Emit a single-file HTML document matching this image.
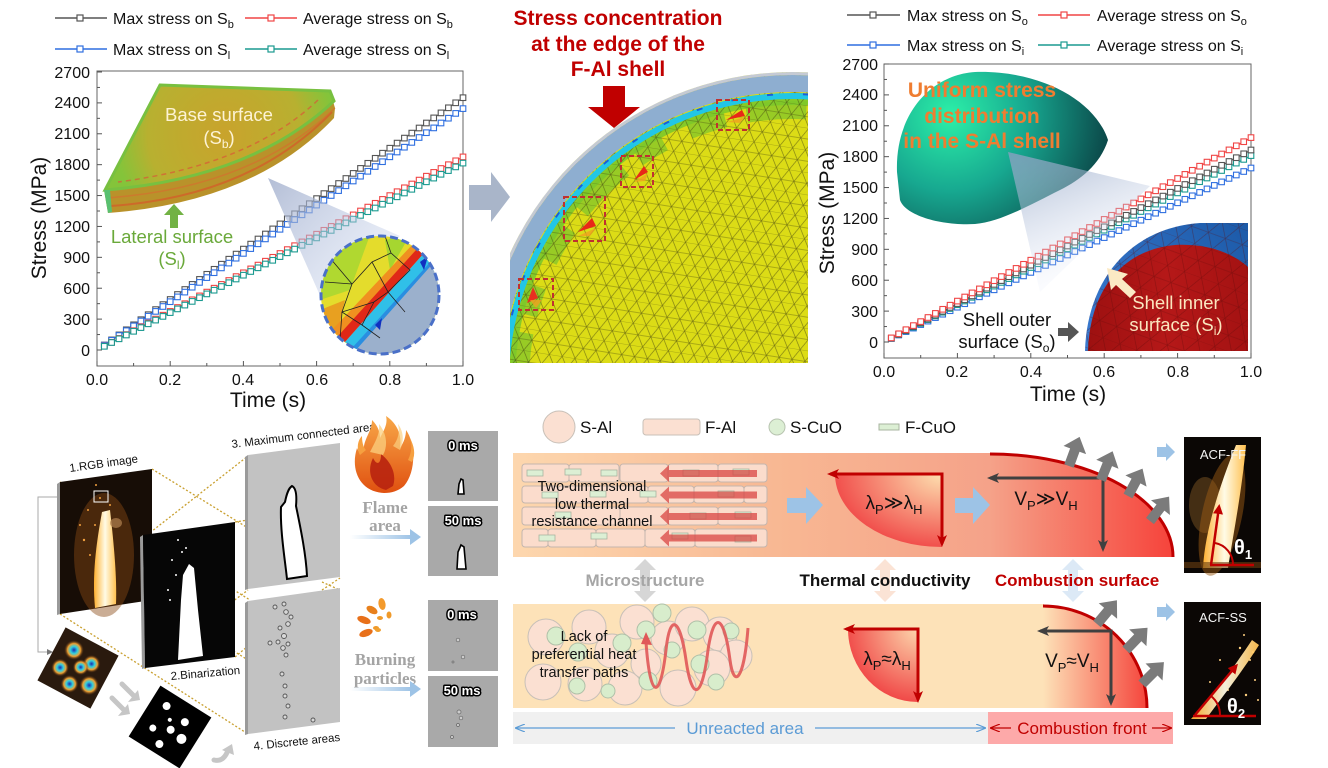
<!DOCTYPE html>
<html><head><meta charset="utf-8">
<style>
html,body{margin:0;padding:0;background:#fff;width:1328px;height:768px;overflow:hidden;}
svg{display:block;font-family:"Liberation Sans",Arial,sans-serif;overflow:hidden;}
.t16{font-size:16px;fill:#111;}
.ax{font-size:16px;fill:#111;}
</style></head><body>
<svg id="s" width="1328" height="768" viewBox="0 0 1328 768" xmlns="http://www.w3.org/2000/svg">
<defs>
  <pattern id="mesh" width="13" height="22" patternUnits="userSpaceOnUse" patternTransform="rotate(9)">
    <path d="M0,0H13M0,11H13M0,0L6.5,11L13,0M0,22L6.5,11L13,22" stroke="#3e3e10" stroke-width="0.6" fill="none" opacity="0.65"/>
  </pattern>
  <pattern id="mesh2" width="18" height="30" patternUnits="userSpaceOnUse" patternTransform="rotate(20)">
    <path d="M0,0H18M0,15H18M0,0L9,15L18,0M0,30L9,15L18,30" stroke="#5a0808" stroke-width="0.6" fill="none" opacity="0.45"/>
  </pattern>
  <clipPath id="feclip"><rect x="510" y="72" width="298" height="291"/></clipPath>
  <clipPath id="insetclip"><circle cx="380" cy="295" r="59"/></clipPath>
  <clipPath id="shellclip"><path d="M1085,351 C1087,280 1130,228 1200,223 L1248,223 L1248,351 Z"/></clipPath>
  <linearGradient id="topband" x1="513" y1="0" x2="990" y2="0" gradientUnits="userSpaceOnUse">
    <stop offset="0" stop-color="#fdd7ae"/><stop offset="0.55" stop-color="#f8b893"/><stop offset="1" stop-color="#f5a289"/>
  </linearGradient>
  <linearGradient id="topred" x1="990" y1="0" x2="1173" y2="0" gradientUnits="userSpaceOnUse">
    <stop offset="0" stop-color="#f5a289"/><stop offset="1" stop-color="#f6433b"/>
  </linearGradient>
  <linearGradient id="botred" x1="1043" y1="0" x2="1147" y2="0" gradientUnits="userSpaceOnUse">
    <stop offset="0" stop-color="#fde2b8"/><stop offset="1" stop-color="#f5453c"/>
  </linearGradient>
  <radialGradient id="lam1" cx="942" cy="474" r="115" gradientUnits="userSpaceOnUse" gradientTransform="translate(942 474) scale(1 0.68) translate(-942 -474)">
    <stop offset="0" stop-color="#fde0b0"/><stop offset="1" stop-color="#f04545"/>
  </radialGradient>
  <radialGradient id="lam2" cx="918" cy="629" r="75" gradientUnits="userSpaceOnUse">
    <stop offset="0" stop-color="#fcd6ac"/><stop offset="1" stop-color="#f04545"/>
  </radialGradient>
  <radialGradient id="cap" cx="950" cy="115" r="170" gradientUnits="userSpaceOnUse">
    <stop offset="0" stop-color="#2cf0a8"/><stop offset="0.45" stop-color="#17a890"/><stop offset="1" stop-color="#0a3c40"/>
  </radialGradient>
  <radialGradient id="basegr" cx="225" cy="135" r="110" gradientUnits="userSpaceOnUse">
    <stop offset="0" stop-color="#c9a32c"/><stop offset="0.7" stop-color="#b8b030"/><stop offset="1" stop-color="#84c43a"/>
  </radialGradient>
  <linearGradient id="zoomtri" x1="268" y1="178" x2="380" y2="280" gradientUnits="userSpaceOnUse">
    <stop offset="0" stop-color="#9aa8c8" stop-opacity="0.75"/><stop offset="1" stop-color="#c8d4ee" stop-opacity="0.35"/>
  </linearGradient>
  <linearGradient id="zoomtri2" x1="1008" y1="152" x2="1060" y2="280" gradientUnits="userSpaceOnUse">
    <stop offset="0" stop-color="#8a9ec0" stop-opacity="0.8"/><stop offset="1" stop-color="#dfe6f6" stop-opacity="0.15"/>
  </linearGradient>
  <linearGradient id="redsh" x1="1085" y1="0" x2="1248" y2="0" gradientUnits="userSpaceOnUse">
    <stop offset="0" stop-color="#9c1010"/><stop offset="0.5" stop-color="#b51818"/><stop offset="1" stop-color="#a41212"/>
  </linearGradient>
  <linearGradient id="blsh" x1="1085" y1="351" x2="1248" y2="223" gradientUnits="userSpaceOnUse">
    <stop offset="0" stop-color="#3a7ad0"/><stop offset="1" stop-color="#1c5aa8"/>
  </linearGradient>
  <linearGradient id="flm" x1="0" y1="0" x2="1" y2="0">
    <stop offset="0" stop-color="#ffb030"/><stop offset="0.5" stop-color="#fffbe6"/><stop offset="1" stop-color="#ffc050"/>
  </linearGradient>
  <linearGradient id="fire" x1="0" y1="0" x2="0" y2="1">
    <stop offset="0" stop-color="#f8a848"/><stop offset="1" stop-color="#e05010"/>
  </linearGradient>
  <linearGradient id="fadeArrow" x1="0" y1="0" x2="1" y2="0">
    <stop offset="0" stop-color="#9dc3e6" stop-opacity="0"/><stop offset="1" stop-color="#9dc3e6"/>
  </linearGradient>
  <radialGradient id="blob" cx="0.5" cy="0.5" r="0.5">
    <stop offset="0" stop-color="#1a2ab0"/><stop offset="0.35" stop-color="#30d0e0"/><stop offset="0.65" stop-color="#f0a030"/><stop offset="1" stop-color="#402010" stop-opacity="0"/>
  </radialGradient>
  <marker id="arR" markerWidth="12" markerHeight="10" refX="9" refY="5" orient="auto-start-reverse" markerUnits="userSpaceOnUse">
    <path d="M0,0 L12,5 L0,10 L3,5 Z" fill="#c00000"/>
  </marker>
  <marker id="arG" markerWidth="12" markerHeight="10" refX="9" refY="5" orient="auto-start-reverse" markerUnits="userSpaceOnUse">
    <path d="M0,0 L12,5 L0,10 L3,5 Z" fill="#404040"/>
  </marker>
  <marker id="arB" markerWidth="10" markerHeight="8" refX="9" refY="4" orient="auto-start-reverse" markerUnits="userSpaceOnUse">
    <path d="M0,0 L10,4 L0,8" fill="none" stroke="#5b9bd5" stroke-width="1.2"/>
  </marker>
  <marker id="arC" markerWidth="10" markerHeight="8" refX="9" refY="4" orient="auto-start-reverse" markerUnits="userSpaceOnUse">
    <path d="M0,0 L10,4 L0,8" fill="none" stroke="#c00000" stroke-width="1.2"/>
  </marker>
  <marker id="arW" markerWidth="10" markerHeight="10" refX="7" refY="5" orient="auto" markerUnits="userSpaceOnUse">
    <path d="M0,0 L10,5 L0,10 Z" fill="#c00000"/>
  </marker>
  <marker id="arK" markerWidth="6" markerHeight="6" refX="5" refY="3" orient="auto" markerUnits="userSpaceOnUse">
    <path d="M0,0 L6,3 L0,6 Z" fill="#777"/>
  </marker>
  <symbol id="gup" overflow="visible"><polygon points="-5,0 -5,-17 -12,-17 0,-31 12,-17 5,-17 5,0" fill="#7b7b7b"/></symbol>
</defs>

<!-- ================= PLOT 1 ================= -->
<g>
  <line x1="55" y1="18" x2="107" y2="18" stroke="#555" stroke-width="1.5"/><rect x="77" y="15" width="6" height="6" fill="#fff" stroke="#555" stroke-width="1.2"/>
  <text x="113" y="24" class="t16">Max stress on S<tspan font-size="11" dy="4">b</tspan></text>
  <line x1="245" y1="18" x2="297" y2="18" stroke="#f04545" stroke-width="1.5"/><rect x="268" y="15" width="6" height="6" fill="#fff" stroke="#f04545" stroke-width="1.2"/>
  <text x="303" y="24" class="t16">Average stress on S<tspan font-size="11" dy="4">b</tspan></text>
  <line x1="55" y1="49" x2="107" y2="49" stroke="#2f6fe0" stroke-width="1.5"/><rect x="77" y="46" width="6" height="6" fill="#fff" stroke="#2f6fe0" stroke-width="1.2"/>
  <text x="113" y="55" class="t16">Max stress on S<tspan font-size="11" dy="4">l</tspan></text>
  <line x1="245" y1="49" x2="297" y2="49" stroke="#1a9a90" stroke-width="1.5"/><rect x="268" y="46" width="6" height="6" fill="#fff" stroke="#1a9a90" stroke-width="1.2"/>
  <text x="303" y="55" class="t16">Average stress on S<tspan font-size="11" dy="4">l</tspan></text>

  <rect x="97" y="71" width="366" height="295" fill="none" stroke="#666" stroke-width="1"/>
  <g class="ax" text-anchor="end">
    <text x="90" y="356">0</text><text x="90" y="325">300</text><text x="90" y="294">600</text><text x="90" y="263">900</text>
    <text x="90" y="232">1200</text><text x="90" y="201">1500</text><text x="90" y="170">1800</text><text x="90" y="139">2100</text>
    <text x="90" y="108">2400</text><text x="90" y="78">2700</text>
  </g>
  <g class="ax" text-anchor="middle">
    <text x="97" y="385">0.0</text><text x="170" y="385">0.2</text><text x="243" y="385">0.4</text>
    <text x="317" y="385">0.6</text><text x="390" y="385">0.8</text><text x="463" y="385">1.0</text>
  </g>
  <text x="268" y="407" font-size="21" text-anchor="middle" fill="#111">Time (s)</text>
  <text transform="translate(46,218) rotate(-90)" font-size="21" text-anchor="middle" fill="#111">Stress (MPa)</text>
</g>

<g id="dyn"></g>

<!-- plot1 wedge -->
<g>
  <polygon points="268,178 322,300 400,236" fill="url(#zoomtri)"/>
  <path d="M160,85 L330,91 L335,108 L334,118 Q255,202 108,213 L104,190 Z" fill="#b9922a"/>
  <path d="M332,112 Q250,197 110,206" stroke="#d55a2a" stroke-width="2" fill="none" opacity="0.7"/>
  <path d="M335,108 Q252,188 106,198" stroke="#d86a30" stroke-width="1.5" fill="none" opacity="0.6"/>
  <path d="M160,85 L330,91 L334,101 Q252,178 105,190 Z" fill="url(#basegr)" stroke="#78c040" stroke-width="3"/>
  <path d="M318,100 Q250,165 118,182" stroke="#d85838" stroke-width="1.5" fill="none" stroke-dasharray="5 4" opacity="0.7"/>
  <path d="M104,190 L108,213 L112,212 L110,190 Z" fill="#58c070"/>
  <text x="219" y="121" font-size="18.5" text-anchor="middle" fill="#fdf3d4">Base  surface</text>
  <text x="219" y="144" font-size="18.5" text-anchor="middle" fill="#fdf3d4">(S<tspan font-size="12" dy="4">b</tspan><tspan dy="-4">)</tspan></text>
  <polygon points="174,204 184,215 178,215 178,228 170,228 170,215 164,215" fill="#72b244"/>
  <text x="172" y="243" font-size="18.5" text-anchor="middle" fill="#6aa93a">Lateral surface</text>
  <text x="172" y="265" font-size="18.5" text-anchor="middle" fill="#6aa93a">(S<tspan font-size="12" dy="4">l</tspan><tspan dy="-4">)</tspan></text>
  <g clip-path="url(#insetclip)">
    <rect x="320" y="235" width="120" height="120" fill="#e4dc2c"/>
    <polygon points="320,235 370,235 350,290 320,300" fill="#b0d830"/>
    <polygon points="385,240 410,235 390,270" fill="#a6d630"/>
    <polygon points="320,310 345,300 335,345 320,350" fill="#e8a020"/>
    <polygon points="332,330 412,245 430,240 350,345" fill="#f09020"/>
    <polygon points="338,336 416,250 425,252 345,342" fill="#e02818"/>
    <polygon points="345,342 425,252 440,255 356,350" fill="#30c0e8"/>
    <polygon points="352,348 434,258 445,262 360,355" fill="#2a8ee0"/>
    <polygon points="356,350 436,260 450,260 450,360 356,360" fill="#9bb0cc"/>
    <polygon points="420,262 428,256 424,270" fill="#1030c0"/>
    <polygon points="375,325 382,318 380,330" fill="#1030c0"/>
    <path d="M330,258 L352,284 L372,262 L391,253 L410,270 L388,292 L372,262 M352,284 L342,312 L374,302 L388,292 L405,312 M374,302 L362,325 L342,312 M362,325 L380,338 M391,253 L385,236 M352,284 L325,282 M342,312 L340,340" stroke="#222" stroke-width="0.8" fill="none"/>
  </g>
  <circle cx="380" cy="295" r="59" fill="none" stroke="#4a70c8" stroke-width="3" stroke-dasharray="8 4"/>
</g>

<polygon points="469,185 491,185 491,172 510,197 491,222 491,210 469,210" fill="#a9b5c9"/>

<!-- ================= FE middle ================= -->
<g clip-path="url(#feclip)">
  <rect x="510" y="72" width="298" height="291" fill="#dcdc16"/>
  <circle cx="792" cy="382" r="272" fill="none" stroke="#8cc828" stroke-width="18" stroke-dasharray="38 22 60 18 30 28" opacity="0.85"/>
  <circle cx="792" cy="382" r="281" fill="none" stroke="#7cc82a" stroke-width="8" opacity="0.9"/>
  <rect x="510" y="72" width="298" height="291" fill="url(#mesh)"/>
  <circle cx="792" cy="382" r="286" fill="none" stroke="#22c6e6" stroke-width="6"/>
  <circle cx="792" cy="382" r="288" fill="none" stroke="#1c5ed8" stroke-width="2" stroke-dasharray="6 30"/>
  <circle cx="792" cy="382" r="298.5" fill="none" stroke="#8eaed0" stroke-width="17"/>
  <circle cx="792" cy="382" r="308.5" fill="none" stroke="#c5cad4" stroke-width="3"/>
  <path d="M500,60 H820 V375 H500 Z M482,382 A310,310 0 1 0 1102,382 A310,310 0 1 0 482,382 Z" fill="#fff" fill-rule="evenodd"/>
  <polygon points="527,303 533,287 538,298" fill="#e83020"/><polygon points="530,300 542,300 536,308" fill="#f0a020" opacity="0.8"/>
  <polygon points="578,232 592,218 596,226" fill="#e82818"/><polygon points="578,236 590,236 596,228" fill="#f0a020" opacity="0.8"/>
  <polygon points="634,180 644,166 648,172" fill="#e82818"/><polygon points="634,182 645,181 648,173" fill="#f0a020" opacity="0.8"/>
  <polygon points="726,120 742,110 745,116" fill="#e82818"/><polygon points="727,122 740,123 745,117" fill="#f0a020" opacity="0.8"/>
</g>
<g fill="none" stroke="#c03030" stroke-width="2" stroke-dasharray="5 3">
  <rect x="519" y="279" width="34" height="31"/>
  <rect x="564" y="197" width="41" height="44"/>
  <rect x="621" y="156" width="32" height="31"/>
  <rect x="717" y="100" width="32" height="30"/>
</g>
<g font-size="21" font-weight="bold" fill="#c00000" text-anchor="middle">
  <text x="618" y="25">Stress concentration</text>
  <text x="618" y="51">at the edge of the</text>
  <text x="618" y="76">F-Al shell</text>
</g>
<polygon points="603,86 625,86 625,107 640,107 614,128 588,107 603,107" fill="#c00000"/>

<!-- ================= PLOT 3 ================= -->
<g>
  <line x1="847" y1="15" x2="900" y2="15" stroke="#555" stroke-width="1.5"/><rect x="870" y="12" width="6" height="6" fill="#fff" stroke="#555" stroke-width="1.2"/>
  <text x="907" y="21" class="t16">Max stress on S<tspan font-size="11" dy="4">o</tspan></text>
  <line x1="1038" y1="15" x2="1090" y2="15" stroke="#f04545" stroke-width="1.5"/><rect x="1061" y="12" width="6" height="6" fill="#fff" stroke="#f04545" stroke-width="1.2"/>
  <text x="1097" y="21" class="t16">Average stress on S<tspan font-size="11" dy="4">o</tspan></text>
  <line x1="847" y1="45" x2="900" y2="45" stroke="#2f6fe0" stroke-width="1.5"/><rect x="870" y="42" width="6" height="6" fill="#fff" stroke="#2f6fe0" stroke-width="1.2"/>
  <text x="907" y="51" class="t16">Max stress on S<tspan font-size="11" dy="4">i</tspan></text>
  <line x1="1038" y1="45" x2="1090" y2="45" stroke="#1a9a90" stroke-width="1.5"/><rect x="1061" y="42" width="6" height="6" fill="#fff" stroke="#1a9a90" stroke-width="1.2"/>
  <text x="1097" y="51" class="t16">Average stress on S<tspan font-size="11" dy="4">i</tspan></text>

  <rect x="884" y="64" width="367" height="294" fill="none" stroke="#666" stroke-width="1"/>
  <g class="ax" text-anchor="end">
    <text x="878" y="348">0</text><text x="878" y="317">300</text><text x="878" y="286">600</text><text x="878" y="255">900</text>
    <text x="878" y="224">1200</text><text x="878" y="193">1500</text><text x="878" y="162">1800</text><text x="878" y="131">2100</text>
    <text x="878" y="100">2400</text><text x="878" y="70">2700</text>
  </g>
  <g class="ax" text-anchor="middle">
    <text x="884" y="377">0.0</text><text x="957" y="377">0.2</text><text x="1031" y="377">0.4</text>
    <text x="1104" y="377">0.6</text><text x="1178" y="377">0.8</text><text x="1251" y="377">1.0</text>
  </g>
  <text x="1068" y="401" font-size="21" text-anchor="middle" fill="#111">Time (s)</text>
  <text transform="translate(834,213) rotate(-90)" font-size="21" text-anchor="middle" fill="#111">Stress (MPa)</text>
</g>
<g id="dyn3"></g>
<g>
  <path d="M897,172 C895,115 930,75 975,72 C1040,70 1095,100 1108,140 C1100,165 1080,180 1060,190 C1030,205 1000,222 975,224 C940,226 905,215 900,200 Z" fill="url(#cap)"/>
  <polygon points="1008,152 1150,186 1040,292" fill="url(#zoomtri2)"/>
  <g font-size="21" font-weight="bold" fill="#ef7d31" text-anchor="middle">
    <text x="982" y="97">Uniform stress</text>
    <text x="982" y="123">distribution</text>
    <text x="982" y="148">in the S-Al shell</text>
  </g>
  <g clip-path="url(#shellclip)">
    <rect x="1085" y="223" width="163" height="128" fill="url(#blsh)"/>
    <path d="M1088,351 C1090,290 1122,250 1175,245 C1210,243 1235,255 1248,267 L1248,351 Z" fill="url(#redsh)"/>
    <rect x="1085" y="223" width="163" height="128" fill="url(#mesh2)"/>
  </g>
  <polygon points="1107,268 1128,274 1122,279 1136,292 1130,298 1116,285 1111,290" fill="#fbe9c4"/>
  <text x="1176" y="309" font-size="18.5" text-anchor="middle" fill="#fbe6bf">Shell inner</text>
  <text x="1176" y="331" font-size="18.5" text-anchor="middle" fill="#fbe6bf">surface (S<tspan font-size="12" dy="4">i</tspan><tspan dy="-4">)</tspan></text>
  <text x="1007" y="326" font-size="18.5" text-anchor="middle" fill="#111">Shell outer</text>
  <text x="1007" y="348" font-size="18.5" text-anchor="middle" fill="#111">surface (S<tspan font-size="12" dy="4">o</tspan><tspan dy="-4">)</tspan></text>
  <polygon points="1058,328 1068,328 1068,322 1079,332 1068,342 1068,336 1058,336" fill="#555"/>
</g>

<!-- ================= BOTTOM MIDDLE ================= -->
<circle cx="559" cy="427" r="16" fill="#fbe0d2" stroke="#c8c0b8" stroke-width="1"/>
<text x="580" y="433" font-size="17" fill="#111">S-Al</text>
<rect x="643" y="419" width="57" height="16" rx="3" fill="#fbe0d2" stroke="#c8c0b8"/>
<text x="705" y="433" font-size="17" fill="#111">F-Al</text>
<circle cx="777" cy="427" r="8" fill="#dcefd4" stroke="#b8c4b0"/>
<text x="790" y="433" font-size="17" fill="#111">S-CuO</text>
<rect x="879" y="424" width="20" height="6" fill="#dcefd4" stroke="#a8b4a0"/>
<text x="905" y="433" font-size="17" fill="#111">F-CuO</text>

<rect x="513" y="453" width="478" height="104" fill="url(#topband)"/>
<path d="M990,453 A183,104 0 0 1 1173,557 L990,557 Z" fill="url(#topred)"/>
<path d="M990,454 A183,103 0 0 1 1173,557" fill="none" stroke="#c00000" stroke-width="3"/>
<g fill="#fbdccc" stroke="#c4b6ae" stroke-width="1">
  <rect x="522" y="464" width="47" height="18" rx="3"/><rect x="569" y="464" width="50" height="18" rx="3"/><rect x="620" y="464" width="48" height="18" rx="3"/><rect x="668" y="464" width="50" height="18" rx="3"/><rect x="718" y="464" width="49" height="18" rx="3"/>
  <rect x="522" y="486" width="36" height="17" rx="3"/><rect x="558" y="486" width="90" height="17" rx="3"/><rect x="648" y="486" width="46" height="17" rx="3"/><rect x="694" y="486" width="50" height="17" rx="3"/><rect x="744" y="486" width="23" height="17" rx="3"/>
  <rect x="522" y="507" width="98" height="18" rx="3"/><rect x="620" y="507" width="48" height="18" rx="3"/><rect x="668" y="507" width="50" height="18" rx="3"/><rect x="718" y="507" width="49" height="18" rx="3"/>
  <rect x="522" y="529" width="26" height="18" rx="3"/><rect x="548" y="529" width="48" height="18" rx="3"/><rect x="596" y="529" width="49" height="18" rx="3"/><rect x="645" y="529" width="50" height="18" rx="3"/><rect x="695" y="529" width="72" height="18" rx="3"/>
</g>
<g fill="#dcefd4" stroke="#a8b4a0" stroke-width="0.8">
  <rect x="527" y="470" width="16" height="6"/><rect x="565" y="469" width="16" height="6"/><rect x="601" y="470" width="16" height="6"/><rect x="683" y="470" width="16" height="6"/><rect x="733" y="469" width="16" height="6"/>
  <rect x="542" y="492" width="16" height="6"/><rect x="590" y="491" width="16" height="6"/><rect x="640" y="491" width="16" height="6"/><rect x="718" y="491" width="16" height="6"/>
  <rect x="555" y="512" width="16" height="6"/><rect x="690" y="513" width="16" height="6"/><rect x="735" y="512" width="16" height="6"/>
  <rect x="539" y="535" width="16" height="6"/><rect x="591" y="533" width="16" height="6"/><rect x="672" y="533" width="16" height="6"/><rect x="735" y="536" width="16" height="6"/>
</g>
<g fill="#d9413e" opacity="0.72">
  <rect x="668" y="470" width="89" height="7"/><polygon points="669,465 669,482 660,473.5"/>
  <rect x="668" y="491.5" width="89" height="7"/><polygon points="669,486.5 669,503.5 660,495"/>
  <rect x="668" y="513" width="89" height="7"/><polygon points="669,508 669,525 660,516.5"/>
  <rect x="668" y="534.5" width="89" height="7"/><polygon points="669,529.5 669,546.5 660,538"/>
</g>
<g font-size="14.5" text-anchor="middle" fill="#111">
  <text x="592" y="491">Two-dimensional</text>
  <text x="592" y="509">low thermal</text>
  <text x="592" y="526">resistance channel</text>
</g>
<g fill="#9dc3e6">
  <polygon points="787,498 806,498 806,487 823,505 806,524 806,513 787,513"/>
  <polygon points="955,498 973,498 973,487 990,505 973,524 973,513 955,513"/>
  <polygon points="787,649 806,649 806,638 823,656 806,675 806,664 787,664"/>
  <polygon points="955,649 973,649 973,638 990,656 973,675 973,664 955,664"/>
  <polygon points="1157,447 1166,447 1166,443 1175,452 1166,461 1166,457 1157,457"/>
  <polygon points="1157,607 1166,607 1166,603 1175,612 1166,621 1166,617 1157,617"/>
</g>
<path d="M942,474 L835,474 A107,73 0 0 0 942,547 Z" fill="url(#lam1)"/>
<polyline points="830,474 942,474 942,544" fill="none" stroke="#c00000" stroke-width="3" marker-start="url(#arR)" marker-end="url(#arR)"/>
<text x="894" y="509" font-size="19" text-anchor="middle" fill="#111">λ<tspan font-size="13" dy="5">P</tspan><tspan dy="-5">≫λ</tspan><tspan font-size="13" dy="5">H</tspan></text>
<polyline points="990,478 1103,478 1103,549" fill="none" stroke="#404040" stroke-width="3" marker-start="url(#arG)" marker-end="url(#arG)"/>
<text x="1046" y="505" font-size="19" text-anchor="middle" fill="#111">V<tspan font-size="13" dy="5">P</tspan><tspan dy="-5">≫V</tspan><tspan font-size="13" dy="5">H</tspan></text>
<use href="#gup" transform="translate(1069,466) rotate(20)"/>
<use href="#gup" transform="translate(1101,480) rotate(22)"/>
<use href="#gup" transform="translate(1128,496) rotate(28)"/>
<use href="#gup" transform="translate(1150,521) rotate(38)"/>

<polygon points="645,559 656,570 650,570 650,591 656,591 645,602 634,591 640,591 640,570 634,570" fill="#d6d6d6"/>
<polygon points="885,559 896,570 890,570 890,591 896,591 885,602 874,591 880,591 880,570 874,570" fill="#fbe3d5"/>
<polygon points="1073,559 1084,570 1078,570 1078,591 1084,591 1073,602 1062,591 1068,591 1068,570 1062,570" fill="#dce9f6"/>
<text x="645" y="586" font-size="17" font-weight="bold" text-anchor="middle" fill="#a6a6a6">Microstructure</text>
<text x="885" y="586" font-size="17" font-weight="bold" text-anchor="middle" fill="#111">Thermal conductivity</text>
<text x="1077" y="586" font-size="17" font-weight="bold" text-anchor="middle" fill="#c00000">Combustion surface</text>

<rect x="513" y="604" width="531" height="104" fill="#fde2b8"/>
<path d="M1043,605 A104,103 0 0 1 1147,708 L1043,708 Z" fill="url(#botred)"/>
<path d="M1043,606 A104,102 0 0 1 1147,708" fill="none" stroke="#c00000" stroke-width="3"/>
<g fill="#fbe0d2" stroke="#c8c0b8" stroke-width="1">
  <circle cx="546" cy="637" r="18"/><circle cx="543" cy="682" r="18"/><circle cx="589" cy="627" r="17"/>
  <circle cx="612" cy="651" r="17"/><circle cx="585" cy="684" r="17"/><circle cx="637" cy="622" r="17"/>
  <circle cx="625" cy="688" r="17"/><circle cx="668" cy="638" r="17"/><circle cx="692" cy="624" r="17"/>
  <circle cx="720" cy="634" r="17"/><circle cx="736" cy="656" r="16"/><circle cx="712" cy="668" r="18"/>
  <circle cx="678" cy="688" r="18"/><circle cx="646" cy="664" r="15"/>
</g>
<g fill="#d8edcc" stroke="#b0c0a8" stroke-width="1">
  <circle cx="556" cy="636" r="9"/><circle cx="578" cy="652" r="9"/><circle cx="622" cy="643" r="9"/>
  <circle cx="646" cy="630" r="9"/><circle cx="662" cy="613" r="9"/><circle cx="697" cy="630" r="9"/>
  <circle cx="731" cy="631" r="8"/><circle cx="700" cy="664" r="9"/><circle cx="672" cy="650" r="8"/>
  <circle cx="648" cy="681" r="9"/><circle cx="577" cy="686" r="8"/><circle cx="716" cy="682" r="8"/>
  <circle cx="608" cy="691" r="7"/>
</g>
<path d="M646,642 C650,700 660,702 666,650 C670,612 680,618 686,660 C692,702 702,700 708,650 C714,610 724,614 730,660 C734,690 744,680 748,628" fill="none" stroke="#e05858" stroke-width="3" opacity="0.9"/>
<polygon points="646,632 652,645 641,644" fill="#e05858"/>
<g font-size="14.5" text-anchor="middle" fill="#111">
  <text x="584" y="641">Lack of</text>
  <text x="584" y="659">preferential heat</text>
  <text x="584" y="677">transfer paths</text>
</g>
<path d="M918,629 L848,629 A70,73 0 0 0 918,702 Z" fill="url(#lam2)"/>
<polyline points="846,629 918,629 918,700" fill="none" stroke="#c00000" stroke-width="3" marker-start="url(#arR)" marker-end="url(#arR)"/>
<text x="887" y="665" font-size="19" text-anchor="middle" fill="#111">λ<tspan font-size="13" dy="5">P</tspan><tspan dy="-5">≈λ</tspan><tspan font-size="13" dy="5">H</tspan></text>
<polyline points="1040,631 1111,631 1111,703" fill="none" stroke="#404040" stroke-width="3" marker-start="url(#arG)" marker-end="url(#arG)"/>
<text x="1072" y="667" font-size="19" text-anchor="middle" fill="#111">V<tspan font-size="13" dy="5">P</tspan><tspan dy="-5">≈V</tspan><tspan font-size="13" dy="5">H</tspan></text>
<use href="#gup" transform="translate(1097,624) rotate(40)"/>
<use href="#gup" transform="translate(1126,650) rotate(44)"/>
<use href="#gup" transform="translate(1142,684) rotate(45)"/>

<rect x="513" y="712" width="475" height="32" fill="#f0f0f0"/>
<line x1="516" y1="728" x2="675" y2="728" stroke="#5b9bd5" stroke-width="1.2" marker-start="url(#arB)"/>
<line x1="815" y1="728" x2="985" y2="728" stroke="#5b9bd5" stroke-width="1.2" marker-end="url(#arB)"/>
<text x="745" y="734" font-size="17" text-anchor="middle" fill="#5b9bd5">Unreacted area</text>
<rect x="988" y="712" width="185" height="32" fill="#fda9a9"/>
<line x1="991" y1="728" x2="1011" y2="728" stroke="#c00000" stroke-width="1.2" marker-start="url(#arC)"/>
<line x1="1152" y1="728" x2="1171" y2="728" stroke="#c00000" stroke-width="1.2" marker-end="url(#arC)"/>
<text x="1082" y="734" font-size="17" text-anchor="middle" fill="#c00000">Combustion front</text>

<!-- photos -->
<rect x="1184" y="437" width="77" height="136" fill="#0b0705"/>
<ellipse cx="1205" cy="505" rx="16" ry="28" fill="#6a4a1e" opacity="0.6"/>
<ellipse cx="1222" cy="515" rx="20" ry="62" fill="#9a5a14" opacity="0.5" transform="rotate(12 1222 515)"/>
<path d="M1203,568 C1205,530 1220,485 1236,445 L1246,445 C1242,490 1234,530 1228,568 Z" fill="url(#flm)"/>
<rect x="1184" y="562" width="77" height="6" fill="#6a4010" opacity="0.6"/>
<line x1="1210" y1="565" x2="1254" y2="565" stroke="#c00000" stroke-width="2.5"/>
<line x1="1211" y1="565" x2="1219" y2="507" stroke="#c00000" stroke-width="2.5" marker-end="url(#arW)"/>
<path d="M1233,565 A22,22 0 0 0 1215,543" fill="none" stroke="#c00000" stroke-width="2"/>
<text x="1234" y="554" font-size="20" font-weight="bold" fill="#fff">θ<tspan font-size="13" dy="5">1</tspan></text>
<text x="1223" y="459" font-size="13" text-anchor="middle" fill="#f4f4f4">ACF-FF</text>

<rect x="1184" y="602" width="77" height="123" fill="#0b0705"/>
<g fill="#ffd080">
  <circle cx="1240" cy="648" r="1.2"/><circle cx="1250" cy="660" r="1"/><circle cx="1232" cy="670" r="1.3"/><circle cx="1255" cy="680" r="1"/>
  <circle cx="1220" cy="660" r="1"/><circle cx="1246" cy="695" r="1.2"/><circle cx="1210" cy="682" r="1"/><circle cx="1258" cy="700" r="1"/>
  <circle cx="1228" cy="690" r="1"/><circle cx="1244" cy="635" r="1"/><circle cx="1253" cy="652" r="1.3"/>
</g>
<path d="M1191,719 C1210,700 1232,670 1252,640 L1259,645 C1240,675 1220,700 1206,719 Z" fill="url(#flm)" opacity="0.95"/>
<line x1="1193" y1="716" x2="1256" y2="716" stroke="#c00000" stroke-width="2.5"/>
<line x1="1195" y1="715" x2="1236" y2="666" stroke="#c00000" stroke-width="2.5" marker-end="url(#arW)"/>
<path d="M1220,715 A25,25 0 0 0 1211,696" fill="none" stroke="#c00000" stroke-width="2"/>
<text x="1227" y="713" font-size="20" font-weight="bold" fill="#fff">θ<tspan font-size="13" dy="5">2</tspan></text>
<text x="1223" y="622" font-size="13" text-anchor="middle" fill="#f4f4f4">ACF-SS</text>

<!-- ================= BOTTOM LEFT ================= -->
<g stroke="#c9a030" stroke-width="1.3" stroke-dasharray="2 2" fill="none">
  <line x1="60" y1="482" x2="250" y2="600"/>
  <line x1="60" y1="614" x2="248" y2="734"/>
  <line x1="152" y1="469" x2="248" y2="528"/>
  <line x1="147" y1="535" x2="248" y2="456"/>
  <line x1="145" y1="667" x2="248" y2="590"/>
  <line x1="235" y1="522" x2="248" y2="520"/>
  <line x1="235" y1="657" x2="248" y2="646"/>
  <line x1="152" y1="600" x2="248" y2="660"/>
  <line x1="322" y1="582" x2="340" y2="590"/>
  <line x1="322" y1="590" x2="340" y2="578"/>
</g>
<path d="M60,497 L38,497 L38,652 L52,652" fill="none" stroke="#aaa" stroke-width="1" marker-end="url(#arK)"/>
<polygon points="57,484 60,482 60,614 57,615" fill="#9a9a9a"/>
<polygon points="60,482 152,469 152,600 60,614" fill="#170d06"/>
<ellipse cx="104" cy="555" rx="30" ry="62" fill="#8a4a14" opacity="0.45"/>
<g fill="#f0a040">
  <circle cx="88" cy="510" r="1"/><circle cx="95" cy="525" r="1"/><circle cx="84" cy="540" r="1.2"/><circle cx="100" cy="498" r="1"/>
  <circle cx="110" cy="505" r="1"/><circle cx="90" cy="555" r="1"/><circle cx="80" cy="525" r="1"/><circle cx="96" cy="485" r="1"/>
</g>
<path d="M95,608 C92,575 96,545 102,512 L110,510 C114,545 117,578 116,604 Z" fill="url(#flm)"/>
<ellipse cx="116" cy="523" rx="6" ry="5" fill="#b08050" opacity="0.7"/>
<rect x="94" y="491" width="14" height="11" fill="none" stroke="#fff" stroke-width="1"/>
<polygon points="140,537 143,535 145,668 142,669" fill="#9a9a9a"/>
<polygon points="143,535 235,522 235,657 145,668" fill="#060606"/>
<path d="M178,660 L181,600 L183,575 L189,564 L194,568 L198,610 L203,656 Z" fill="#fff"/>
<g fill="#fff"><circle cx="172" cy="560" r="1"/><circle cx="176" cy="575" r="1"/><circle cx="168" cy="590" r="1"/><circle cx="182" cy="552" r="1"/><circle cx="178" cy="540" r="1"/><circle cx="186" cy="548" r="1"/><circle cx="170" cy="600" r="1"/></g>
<polygon points="245,457 248,455 248,589 245,590" fill="#9a9a9a"/>
<polygon points="248,455 340,443 340,577 248,589" fill="#c2c2c2"/>
<path d="M287,579 C285,560 280,530 281,507 L285,502 C287,492 289,488 292,486 C296,488 297,495 296,506 C301,530 306,555 307,576 Z" fill="#fff" stroke="#000" stroke-width="2"/>
<polygon points="245,603 248,601 248,734 245,735" fill="#9a9a9a"/>
<polygon points="248,601 340,588 340,722 248,734" fill="#c2c2c2"/>
<g fill="#d8d8d8" stroke="#555" stroke-width="0.9">
  <circle cx="284" cy="604" r="2"/><circle cx="275" cy="607" r="2"/><circle cx="286" cy="612" r="2.3"/><circle cx="291" cy="617" r="2"/><circle cx="288" cy="624" r="2.3"/>
  <circle cx="280" cy="628" r="2"/><circle cx="284" cy="636" r="2.5"/><circle cx="278" cy="642" r="2"/><circle cx="283" cy="648" r="2.3"/><circle cx="288" cy="644" r="2"/>
  <circle cx="286" cy="655" r="2"/><circle cx="282" cy="674" r="2"/><circle cx="285" cy="686" r="2"/><circle cx="285" cy="696" r="2"/>
  <circle cx="288" cy="706" r="2"/><circle cx="285" cy="717" r="2"/><circle cx="313" cy="720" r="2"/><circle cx="270" cy="643" r="2"/>
</g>
<g font-size="11.5" fill="#111">
  <text transform="translate(70,472) rotate(-8)">1.RGB image</text>
  <text transform="translate(232,448) rotate(-7)">3. Maximum connected area</text>
  <text transform="translate(171,680) rotate(-5)">2.Binarization</text>
  <text transform="translate(254,750) rotate(-6)">4. Discrete areas</text>
</g>
<g transform="translate(78,668) rotate(28)">
  <rect x="-30" y="-30" width="60" height="60" fill="#2a1a0e"/>
  <circle cx="-12" cy="-14" r="10" fill="url(#blob)"/><circle cx="10" cy="-10" r="9" fill="url(#blob)"/>
  <circle cx="18" cy="10" r="10" fill="url(#blob)"/><circle cx="-16" cy="8" r="9" fill="url(#blob)"/>
  <circle cx="0" cy="18" r="9" fill="url(#blob)"/><circle cx="2" cy="-2" r="8" fill="url(#blob)"/>
</g>
<g transform="translate(170,727) rotate(32)">
  <rect x="-30" y="-30" width="60" height="60" fill="#000"/>
  <g fill="#fff"><circle cx="-14" cy="-16" r="4"/><circle cx="10" cy="-12" r="4"/><circle cx="16" cy="4" r="5"/><circle cx="-14" cy="10" r="3.5"/><circle cx="2" cy="2" r="4"/><circle cx="0" cy="20" r="4"/><circle cx="-4" cy="-6" r="2"/></g>
</g>
<g stroke="#c6c6c6" stroke-width="5" fill="none" stroke-linecap="round">
  <path d="M122,684 L134,696"/><path d="M112,698 L124,710"/>
  <path d="M214,760 C222,762 226,756 228,750"/>
</g>
<polygon points="128,702 140,700 138,690" fill="#c6c6c6"/>
<polygon points="118,716 130,714 128,704" fill="#c6c6c6"/>
<polygon points="222,750 232,744 234,755" fill="#c6c6c6"/>

<!-- fire icon (larger) -->
<path d="M384,493 C360,492 350,470 357,448 C360,455 364,455 364,446 C366,436 372,430 372,420 C378,426 380,432 380,438 C384,430 388,424 386,416 C398,424 402,436 400,448 C404,442 406,436 406,430 C416,444 416,472 404,486 C398,491 392,493 384,493 Z" fill="url(#fire)"/>
<path d="M360,455 C356,448 358,440 362,436 C362,444 364,448 366,450 Z" fill="#f6a040"/>
<path d="M408,460 C412,452 412,444 410,438 C414,446 416,454 412,462 Z" fill="#f6a040"/>
<path d="M386,490 C372,487 366,472 373,458 C377,466 381,464 381,454 C391,462 397,474 393,486 Z" fill="#b82410" opacity="0.9"/>
<path d="M370,452 C376,440 380,434 379,424 C387,434 388,446 383,455 Z" fill="#fbd080" opacity="0.75"/>
<path d="M393,446 C398,440 400,432 398,424 C404,432 404,442 400,450 Z" fill="#fbd080" opacity="0.7"/>
<g>
  <ellipse cx="382" cy="604" rx="3.5" ry="6" fill="#f39a2c" transform="rotate(-10 382 604)"/>
  <ellipse cx="372" cy="610" rx="6" ry="3.5" fill="#e8801c" transform="rotate(30 372 610)"/>
  <ellipse cx="364" cy="620" rx="7" ry="3.5" fill="#e8701a" transform="rotate(20 364 620)"/>
  <ellipse cx="380" cy="618" rx="3" ry="2" fill="#f09a2a"/>
  <ellipse cx="389" cy="615" rx="2.5" ry="3.5" fill="#f09a2a"/>
  <ellipse cx="376" cy="628" rx="3" ry="2" fill="#f09a2a"/>
  <ellipse cx="366" cy="633" rx="7" ry="3.5" fill="#e8701a" transform="rotate(-20 366 633)"/>
  <ellipse cx="378" cy="630" rx="3" ry="2" fill="#f0a030"/>
</g>
<g font-family="'Liberation Serif',serif" font-weight="bold" font-size="17" fill="#a4a4a4" text-anchor="middle">
  <text x="385" y="513">Flame</text><text x="385" y="531">area</text>
  <text x="385" y="665">Burning</text><text x="385" y="684">particles</text>
</g>
<rect x="350" y="535" width="62" height="4" fill="url(#fadeArrow)"/><polygon points="410,529 421,537 410,545" fill="#9dc3e6"/>
<rect x="350" y="687" width="62" height="4" fill="url(#fadeArrow)"/><polygon points="410,681 421,689 410,697" fill="#9dc3e6"/>
<g fill="#a9a9a9">
  <rect x="428" y="431" width="70" height="70"/><rect x="428" y="506" width="70" height="70"/>
  <rect x="428" y="600" width="70" height="71"/><rect x="428" y="676" width="70" height="71"/>
</g>
<path d="M458,494 L459,484 L461,479 L463,480 L464,494 Z" fill="#fff" stroke="#000" stroke-width="1.6"/>
<path d="M457,569 L458,552 L461,545 L464,547 L466,569 Z" fill="#fff" stroke="#000" stroke-width="1.6"/>
<g fill="#ccc" stroke="#666" stroke-width="0.7">
  <circle cx="458" cy="640" r="1.8"/><circle cx="463" cy="657" r="1.8"/><circle cx="453" cy="662" r="1"/>
  <circle cx="459" cy="712" r="2"/><circle cx="461" cy="718" r="1.8"/><circle cx="458" cy="725" r="1.5"/><circle cx="452" cy="737" r="1.5"/>
</g>
<g font-size="13" font-weight="bold" text-anchor="middle" fill="#fff" stroke="#000" stroke-width="3" paint-order="stroke" stroke-linejoin="round">
  <text x="463" y="450">0 ms</text><text x="463" y="525">50 ms</text>
  <text x="462" y="619">0 ms</text><text x="462" y="695">50 ms</text>
</g>

<script>
(function(){
const NS="http://www.w3.org/2000/svg";
function el(tag,a,p){const e=document.createElementNS(NS,tag);for(const k in a)e.setAttribute(k,a[k]);p.appendChild(e);return e;}
const d1=document.getElementById('dyn'), d3=document.getElementById('dyn3');
function ticks(p,x0,xw,ybot,y0){
  for(let v=0;v<=2700;v+=150){const y=y0-v*278/2700;const L=(v%300==0)?5:3;el('line',{x1:x0,y1:y,x2:x0+L,y2:y,stroke:'#555','stroke-width':1},p);}
  for(let i=0;i<=10;i++){const x=x0+i*xw/10;const L=(i%2==0)?5:3;el('line',{x1:x,y1:ybot,x2:x,y2:ybot-L,stroke:'#555','stroke-width':1},p);}
}
function series(p,x0,w,y0,endv,color){
  const pts=[];for(let i=1;i<=50;i++){const t=i/50;pts.push([x0+t*w,y0-endv*t*278/2700]);}
  el('polyline',{points:pts.map(q=>q[0].toFixed(1)+','+q[1].toFixed(1)).join(' '),fill:'none',stroke:color,'stroke-width':1.2},p);
  pts.forEach(q=>el('rect',{x:(q[0]-2.8).toFixed(1),y:(q[1]-2.8).toFixed(1),width:5.6,height:5.6,fill:'#fff',stroke:color,'stroke-width':1.1},p));
}
ticks(d1,97,366,366,350);
series(d1,97,366,350,2450,'#555');
series(d1,97,366,350,2345,'#2f6fe0');
series(d1,97,366,350,1875,'#f04545');
series(d1,97,366,350,1815,'#1a9a90');
ticks(d3,884,367,358,342);
series(d3,884,367,342,1690,'#2f6fe0');
series(d3,884,367,342,1810,'#1a9a90');
series(d3,884,367,342,1865,'#555');
series(d3,884,367,342,1985,'#f04545');
})();
</script>
</svg>
</body></html>
